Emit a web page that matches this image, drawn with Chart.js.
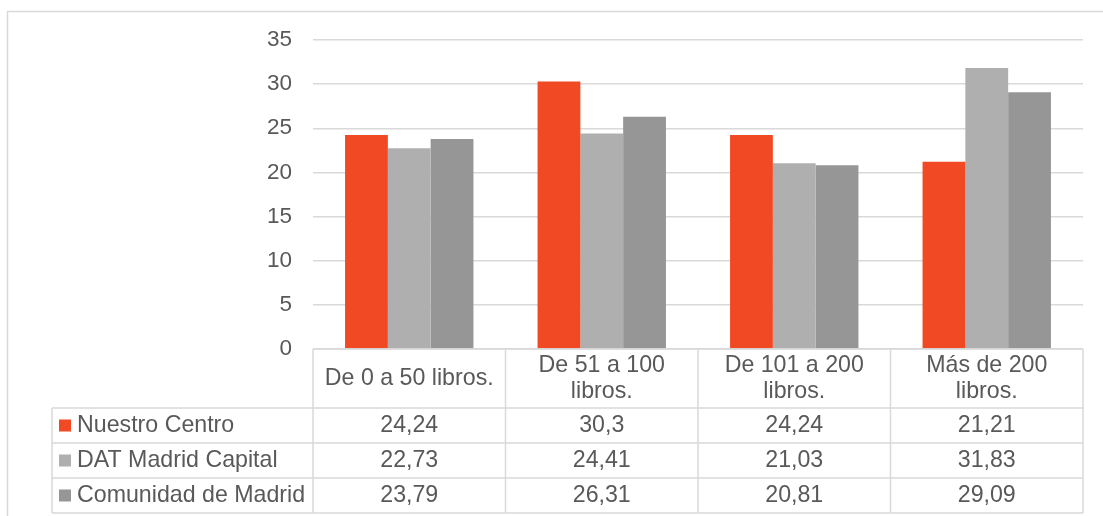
<!DOCTYPE html>
<html>
<head>
<meta charset="utf-8">
<script src="https://cdn.jsdelivr.net/npm/chart.js@4.4.0/dist/chart.umd.min.js"></script>
<style>
  html, body { margin: 0; padding: 0; background: #fff; }
  #wrap { width: 1103px; height: 516px; }
</style>
</head>
<body>
<div id="wrap"><canvas id="libChart" width="1103" height="516"></canvas></div>
<script>
// categories (header lines of the data table)
var categories = [
  ['De 0 a 50 libros.'],
  ['De 51 a 100', 'libros.'],
  ['De 101 a 200', 'libros.'],
  ['Más de 200', 'libros.']
];
var seriesNames = ['Nuestro Centro', 'DAT Madrid Capital', 'Comunidad de Madrid'];
var nuestroCentro = [24.24, 30.3, 24.24, 21.21];
var datMadrid = [22.73, 24.41, 21.03, 31.83];
var comunidad = [23.79, 26.31, 20.81, 29.09];
var yTicks = [0, 5, 10, 15, 20, 25, 30, 35];

var colors = ['#F04923', '#AFAFAF', '#969696'];
var textColor = '#595959';
var lineColor = '#D9D9D9';
var FONT = '23.2px "Liberation Sans", Arial, sans-serif';

function fmt(v) {
  return String(v).replace('.', ',');
}

// frame + data table drawn under/over the chart
var tablePlugin = {
  id: 'dataTable',
  beforeDraw: function(chart) {
    var c = chart.ctx;
    c.save();
    c.fillStyle = '#fff';
    c.fillRect(0, 0, chart.width, chart.height);
    c.strokeStyle = lineColor;
    c.lineWidth = 1.5;
    c.beginPath();
    c.moveTo(7.5, chart.height);
    c.lineTo(7.5, 11.5);
    c.lineTo(chart.width, 11.5);
    c.stroke();
    c.restore();
  },
  afterDraw: function(chart) {
    var c = chart.ctx;
    var area = chart.chartArea;
    var xs = chart.scales.x;
    var n = chart.data.labels.length;
    var colW = (area.right - area.left) / n;
    var headTop = area.bottom;
    var headBot = 408;
    var rowH = 35;
    var tableLeft = 52;
    var rows = chart.data.datasets.length;
    var bottom = headBot + rowH * rows;

    c.save();
    c.strokeStyle = lineColor;
    c.lineWidth = 1.5;
    c.beginPath();
    // header top line (axis)
    c.moveTo(area.left, headTop);
    c.lineTo(area.right, headTop);
    // row lines
    for (var r = 0; r <= rows; r++) {
      var y = headBot + rowH * r;
      c.moveTo(tableLeft, y);
      c.lineTo(area.right, y);
    }
    // verticals
    for (var i = 0; i <= n; i++) {
      var x = area.left + colW * i;
      c.moveTo(x, headTop);
      c.lineTo(x, bottom);
    }
    c.moveTo(tableLeft, headBot);
    c.lineTo(tableLeft, bottom);
    c.stroke();

    c.font = FONT;
    c.fillStyle = textColor;
    c.textBaseline = 'middle';
    c.textAlign = 'center';
    var headMid = (headTop + headBot) / 2;
    chart.data.labels.forEach(function(lab, i) {
      var cx = xs.getPixelForValue(i);
      var lh = 26;
      var y0 = headMid - (lab.length - 1) * lh / 2;
      lab.forEach(function(line, k) {
        c.fillText(line, cx, y0 + k * lh);
      });
    });

    chart.data.datasets.forEach(function(ds, r) {
      var cy = headBot + rowH * r + rowH / 2;
      c.fillStyle = ds.backgroundColor;
      c.fillRect(59, cy - 6, 12, 12);
      c.fillStyle = textColor;
      c.textAlign = 'left';
      c.fillText(ds.label, 77, cy);
      c.textAlign = 'center';
      ds.data.forEach(function(v, i) {
        c.fillText(fmt(v), xs.getPixelForValue(i), cy);
      });
    });
    c.restore();
  }
};

var ctx = document.getElementById('libChart').getContext('2d');
var libChart = new Chart(ctx, {
  type: 'bar',
  data: {
    labels: categories,
    datasets: [
      { label: seriesNames[0], data: nuestroCentro, backgroundColor: colors[0] },
      { label: seriesNames[1], data: datMadrid, backgroundColor: colors[1] },
      { label: seriesNames[2], data: comunidad, backgroundColor: colors[2] }
    ]
  },
  options: {
    responsive: false,
    animation: false,
    devicePixelRatio: 1,
    layout: { padding: { left: 0, top: 40, right: 20, bottom: 167 } },
    datasets: { bar: { categoryPercentage: 0.667, barPercentage: 1.0 } },
    plugins: { legend: { display: false }, tooltip: { enabled: false } },
    scales: {
      x: { display: false },
      y: {
        min: 0,
        max: 35,
        afterFit: function(scale) { scale.width = 313; },
        afterBuildTicks: function(scale) {
          scale.ticks = yTicks.map(function(v) { return { value: v }; });
        },
        border: { display: false },
        grid: { color: lineColor, lineWidth: 1.5, drawTicks: false },
        ticks: {
          padding: 21,
          color: textColor,
          font: { family: '"Liberation Sans", Arial, sans-serif', size: 22.5 }
        }
      }
    }
  },
  plugins: [tablePlugin]
});
</script>
</body>
</html>
